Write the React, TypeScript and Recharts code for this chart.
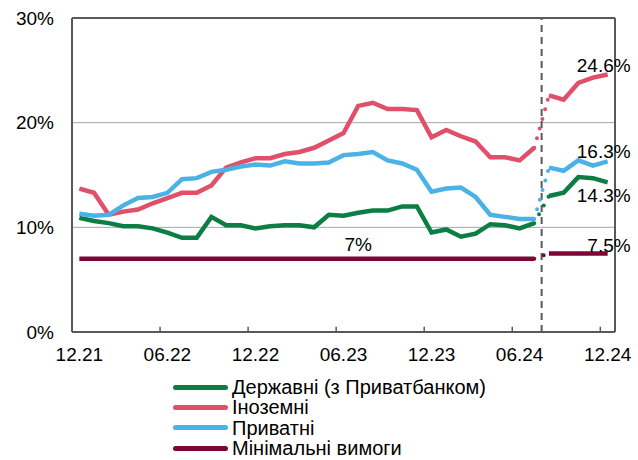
import { LineChart, Line, XAxis, YAxis, CartesianGrid, ReferenceLine } from 'recharts'

// monthly, 12.21 .. 12.24 (37 points); methodology break after 07.24
const tickLabels = ['12.21', '06.22', '12.22', '06.23', '12.23', '06.24', '12.24']
const BREAK = 31

const stateBanks = [10.9, 10.6, 10.4, 10.1, 10.1, 9.9, 9.5, 9.0, 9.0, 11.0, 10.2, 10.2, 9.9, 10.1, 10.2, 10.2, 10.0, 11.2, 11.1, 11.4, 11.6, 11.6, 12.0, 12.0, 9.5, 9.8, 9.1, 9.4, 10.3, 10.2, 9.9, 10.4, 13.0, 13.3, 14.8, 14.7, 14.3]
const foreignBanks = [13.7, 13.3, 11.2, 11.5, 11.7, 12.3, 12.8, 13.3, 13.3, 14.0, 15.7, 16.2, 16.6, 16.6, 17.0, 17.2, 17.6, 18.3, 19.0, 21.6, 21.9, 21.3, 21.3, 21.2, 18.6, 19.3, 18.7, 18.2, 16.7, 16.7, 16.4, 17.6, 22.6, 22.2, 23.8, 24.3, 24.6]
const privateBanks = [11.3, 11.1, 11.2, 12.1, 12.8, 12.9, 13.3, 14.6, 14.7, 15.3, 15.5, 15.8, 16.0, 15.9, 16.3, 16.1, 16.1, 16.2, 16.9, 17.0, 17.2, 16.4, 16.1, 15.5, 13.4, 13.7, 13.8, 12.9, 11.2, 11.0, 10.8, 10.8, 15.7, 15.4, 16.4, 15.9, 16.3]
const minimum = [7, 7, 7, 7, 7, 7, 7, 7, 7, 7, 7, 7, 7, 7, 7, 7, 7, 7, 7, 7, 7, 7, 7, 7, 7, 7, 7, 7, 7, 7, 7, 7, 7.5, 7.5, 7.5, 7.5, 7.5]

const series = [
  { key: 'state', name: 'Державні (з Приватбанком)', color: '#0b7d45', values: stateBanks },
  { key: 'foreign', name: 'Іноземні', color: '#e0506a', values: foreignBanks },
  { key: 'private', name: 'Приватні', color: '#4bb2e6', values: privateBanks },
  { key: 'min', name: 'Мінімальні вимоги', color: '#7d0634', values: minimum },
]

const data = minimum.map((_, i) => {
  const row: any = { m: i }
  series.forEach(s => {
    row[s.key + 'A'] = i <= BREAK ? s.values[i] : null
    row[s.key + 'B'] = i > BREAK ? s.values[i] : null
    row[s.key + 'Gap'] = i === BREAK || i === BREAK + 1 ? s.values[i] : null
  })
  return row
})

const font = '"Liberation Sans", Arial, sans-serif'
const axisColor = '#595959'

const endLabel = (dx: number, dy: number, at = 36, digits = 1) => (props: any) => {
  const { x, y, value, index } = props
  if (index !== at || value == null) return <g />
  return (
    <text x={x + dx} y={y + dy} textAnchor={dx === 0 ? 'middle' : 'end'} fontSize={19} fill="#000" fontFamily={font}>
      {`${Number(value).toFixed(digits)}%`}
    </text>
  )
}

const labels: Record<string, any> = {
  foreign: endLabel(23, -3),
  private: endLabel(23, -3),
  state: endLabel(23, 20),
  min: endLabel(23, -2),
}

export default function App() {
  return (
    <div style={{ position: 'absolute', left: 0, top: 0, width: 638, height: 460, background: '#fff', fontFamily: font }}>
      <LineChart width={638} height={460} data={data} margin={{ top: 18, right: 23, left: 12, bottom: 98 }}>
        <CartesianGrid vertical={false} stroke="#a6a6a6" />
        <XAxis
          dataKey="m"
          type="number"
          domain={[-0.5, 36.5]}
          allowDataOverflow
          ticks={[0, 6, 12, 18, 24, 30, 36]}
          tickFormatter={(v: number) => tickLabels[v / 6]}
          height={30}
          tickLine={false}
          tickSize={0}
          tickMargin={16}
          axisLine={{ stroke: axisColor, strokeWidth: 2 }}
          tick={{ fontSize: 19, fill: '#000', fontFamily: font }}
        />
        <YAxis
          domain={[0, 30]}
          ticks={[0, 10, 20, 30]}
          tickFormatter={(v: number) => `${v}%`}
          width={60}
          tickLine={false}
          tickSize={0}
          tickMargin={18}
          axisLine={{ stroke: axisColor, strokeWidth: 2 }}
          tick={{ fontSize: 19, fill: '#000', fontFamily: font }}
        />
        <ReferenceLine y={30} stroke={axisColor} strokeWidth={2} />
        <ReferenceLine x={36.5} stroke={axisColor} strokeWidth={2} />
        {[5.5, 11.5, 17.5, 23.5, 29.5, 35.5].map(t => (
          <ReferenceLine key={t} segment={[{ x: t, y: 0 }, { x: t, y: 0.5 }]} stroke={axisColor} strokeWidth={1.5} />
        ))}
        <ReferenceLine x={BREAK + 0.5} stroke={axisColor} strokeWidth={2} strokeDasharray="7 5" />
        {series.map(s => [
          <Line key={s.key + 'A'} dataKey={s.key + 'A'} stroke={s.color} strokeWidth={4.5} dot={false} isAnimationActive={false}
            label={s.key === 'min' ? endLabel(0, -8, 19, 0) : undefined} />,
          <Line key={s.key + 'Gap'} dataKey={s.key + 'Gap'} stroke={s.color} strokeWidth={4} strokeDasharray="0 10" strokeLinecap="round" dot={false} isAnimationActive={false} />,
          <Line key={s.key + 'B'} dataKey={s.key + 'B'} stroke={s.color} strokeWidth={4.5} dot={false} isAnimationActive={false} label={labels[s.key]} />,
        ])}
      </LineChart>
      <div style={{ position: 'absolute', left: 173, top: 377 }}>
        {series.map(s => (
          <div key={s.key} style={{ display: 'flex', alignItems: 'center', height: 20.3 }}>
            <div style={{ width: 55, height: 5, borderRadius: 3, background: s.color, marginRight: 4 }} />
            <span style={{ fontSize: 20, lineHeight: '20.3px', color: '#000' }}>{s.name}</span>
          </div>
        ))}
      </div>
    </div>
  )
}
